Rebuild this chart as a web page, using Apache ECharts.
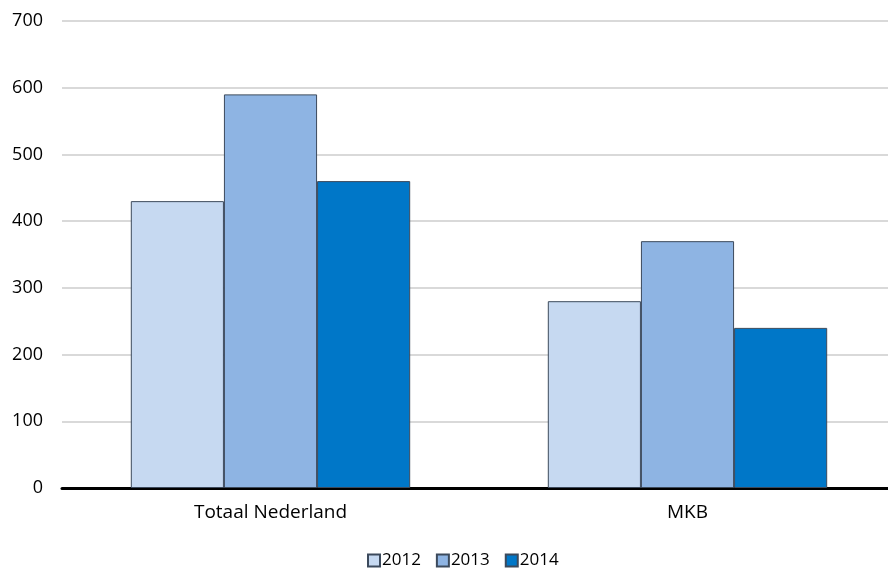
<!DOCTYPE html>
<html><head><meta charset="utf-8">
<script src="https://cdn.jsdelivr.net/npm/echarts@6/dist/echarts.min.js"></script>
<style>html,body{margin:0;padding:0;background:#fff;overflow:hidden;width:888px;height:569px}#c{width:896px;height:569px}</style>
</head><body><div id="c"></div>
<script>
const categories = ['Totaal Nederland', 'MKB'];
const years = ['2012', '2013', '2014'];
const v2012 = [430, 280];
const v2013 = [590, 370];
const v2014 = [460, 240];
const yTicks = [0, 100, 200, 300, 400, 500, 600, 700];
const colors = ['#c6d9f1', '#8eb4e3', '#0077c8'];
const seriesData = [v2012, v2013, v2014];

const chart = echarts.init(document.getElementById('c'), null, {renderer: 'canvas'});
const font = '"Open Sans", Lato, sans-serif';
chart.setOption({
  animation: false,
  grid: {left: 62, right: 0, top: 21, bottom: 81, containLabel: false},
  legend: {
    data: years, top: 552, left: 367, padding: 0, itemWidth: 12, itemHeight: 12, itemGap: 15,
    icon: 'rect',
    textStyle: {fontFamily: font, fontSize: 17, color: '#000', padding: [0, 0, 0, -3]}
  },
  xAxis: {
    type: 'category', data: categories,
    axisLine: {lineStyle: {color: '#000', width: 3}},
    axisTick: {show: false},
    axisLabel: {fontFamily: font, fontSize: 19, color: '#000', margin: 15}
  },
  yAxis: {
    type: 'value', min: yTicks[0], max: yTicks[yTicks.length - 1], interval: 100,
    axisLine: {show: false}, axisTick: {show: false},
    splitLine: {lineStyle: {color: '#d9d9d9', width: 2}},
    axisLabel: {fontFamily: font, fontSize: 18, color: '#000', margin: 19}
  },
  series: years.map((y, i) => ({
    name: y, type: 'bar', data: seriesData[i],
    barGap: '0%', barCategoryGap: '33%',
    itemStyle: {color: colors[i], borderColor: '#3c4a5c', borderWidth: 1}
  }))
});
</script></body></html>
